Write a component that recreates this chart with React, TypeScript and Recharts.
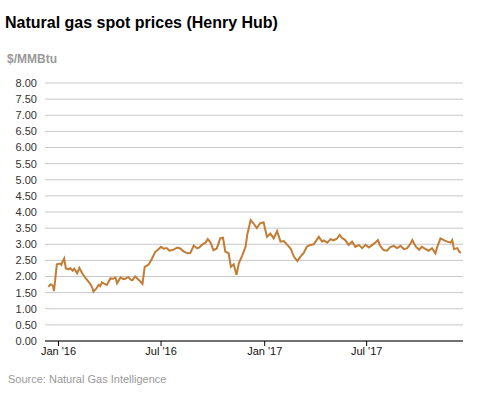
import React from 'react';
import { LineChart, Line, XAxis, YAxis, CartesianGrid } from 'recharts';

const dates: string[] = [
  '2015-12-14', '2015-12-18', '2015-12-22', '2015-12-24', '2015-12-29',
  '2016-01-04', '2016-01-06', '2016-01-08', '2016-01-11', '2016-01-14',
  '2016-01-19', '2016-01-22', '2016-01-26', '2016-01-29', '2016-02-03',
  '2016-02-07', '2016-02-12', '2016-02-16', '2016-02-21', '2016-02-26',
  '2016-03-01', '2016-03-03', '2016-03-08', '2016-03-12', '2016-03-15',
  '2016-03-18', '2016-03-22', '2016-03-27', '2016-04-02', '2016-04-07',
  '2016-04-11', '2016-04-14', '2016-04-20', '2016-04-24', '2016-04-27',
  '2016-05-01', '2016-05-04', '2016-05-08', '2016-05-11', '2016-05-16',
  '2016-05-22', '2016-05-25', '2016-05-29', '2016-06-02', '2016-06-09',
  '2016-06-15', '2016-06-21', '2016-06-25', '2016-07-01', '2016-07-06',
  '2016-07-11', '2016-07-16', '2016-07-21', '2016-07-25', '2016-07-30',
  '2016-08-04', '2016-08-10', '2016-08-17', '2016-08-22', '2016-08-28',
  '2016-09-03', '2016-09-07', '2016-09-12', '2016-09-18', '2016-09-22',
  '2016-09-27', '2016-10-02', '2016-10-08', '2016-10-14', '2016-10-19',
  '2016-10-23', '2016-10-29', '2016-11-02', '2016-11-07', '2016-11-12',
  '2016-11-16', '2016-11-22', '2016-11-28', '2016-12-01', '2016-12-07',
  '2016-12-12', '2016-12-18', '2016-12-24', '2016-12-30', '2017-01-05',
  '2017-01-11', '2017-01-17', '2017-01-23', '2017-01-29', '2017-02-04',
  '2017-02-10', '2017-02-16', '2017-02-22', '2017-02-28', '2017-03-05',
  '2017-03-11', '2017-03-17', '2017-03-23', '2017-03-29', '2017-04-07',
  '2017-04-13', '2017-04-16', '2017-04-22', '2017-04-28', '2017-05-03',
  '2017-05-09', '2017-05-14', '2017-05-18', '2017-05-24', '2017-05-30',
  '2017-06-05', '2017-06-11', '2017-06-17', '2017-06-23', '2017-06-29',
  '2017-07-05', '2017-07-11', '2017-07-17', '2017-07-21', '2017-07-25',
  '2017-07-31', '2017-08-06', '2017-08-12', '2017-08-18', '2017-08-24',
  '2017-08-30', '2017-09-05', '2017-09-11', '2017-09-17', '2017-09-20',
  '2017-09-26', '2017-10-02', '2017-10-07', '2017-10-13', '2017-10-19',
  '2017-10-25', '2017-10-31', '2017-11-03', '2017-11-09', '2017-11-15',
  '2017-11-21', '2017-11-27', '2017-11-30', '2017-12-03', '2017-12-09',
  '2017-12-12', '2017-12-15',
];

const prices: number[] = [
  1.68, 1.76, 1.72, 1.55, 2.38,
  2.40, 2.36, 2.45, 2.56, 2.25,
  2.22, 2.26, 2.18, 2.24, 2.10,
  2.27, 2.10, 2.00, 1.89, 1.78,
  1.65, 1.53, 1.62, 1.74, 1.70,
  1.82, 1.78, 1.74, 1.94, 1.93,
  1.97, 1.79, 1.97, 1.93, 1.92,
  1.96, 1.98, 1.90, 1.88, 2.00,
  1.90, 1.85, 1.77, 2.30, 2.37,
  2.56, 2.77, 2.82, 2.92, 2.86,
  2.88, 2.80, 2.82, 2.85, 2.90,
  2.87, 2.78, 2.72, 2.73, 2.96,
  2.87, 2.90, 2.99, 3.05, 3.16,
  3.05, 2.82, 2.87, 3.18, 3.20,
  2.77, 2.72, 2.30, 2.38, 2.05,
  2.41, 2.65, 2.92, 3.29, 3.75,
  3.65, 3.50, 3.65, 3.68, 3.23,
  3.33, 3.18, 3.41, 3.08, 3.10,
  2.98, 2.87, 2.61, 2.48, 2.61,
  2.72, 2.93, 2.98, 3.00, 3.23,
  3.08, 3.12, 3.05, 3.16, 3.12,
  3.17, 3.29, 3.20, 3.13, 2.98,
  3.08, 2.92, 2.98, 2.88, 2.98,
  2.90, 2.98, 3.06, 3.13, 2.95,
  2.82, 2.80, 2.91, 2.95, 2.88,
  2.95, 2.85, 2.88, 3.02, 3.13,
  2.93, 2.83, 2.92, 2.86, 2.80,
  2.88, 2.72, 2.90, 3.18, 3.13,
  3.08, 3.05, 3.13, 2.85, 2.88,
  2.78, 2.73,
];

const yTicks: number[] = [0, 0.5, 1, 1.5, 2, 2.5, 3, 3.5, 4, 4.5, 5, 5.5, 6, 6.5, 7, 7.5, 8];
const xTickDates: string[] = ['2016-01-01', '2016-07-01', '2017-01-01', '2017-07-01'];
const xDomainDates: string[] = ['2015-12-08', '2017-12-19'];
const monthNames: string[] = ['Jan', 'Feb', 'Mar', 'Apr', 'May', 'Jun', 'Jul', 'Aug', 'Sep', 'Oct', 'Nov', 'Dec'];

const data = dates.map((d, i) => ({ t: Date.parse(d), v: prices[i] }));
const xTicks = xTickDates.map((d) => Date.parse(d));
const xDomain = xDomainDates.map((d) => Date.parse(d));

const fmtDate = (t: number) => {
  const dt = new Date(t);
  return `${monthNames[dt.getUTCMonth()]} '${String(dt.getUTCFullYear()).slice(2)}`;
};

const FONT = '"Liberation Sans", Arial, sans-serif';

export default function App() {
  return (
    <div
      style={{
        position: 'absolute',
        left: 0,
        top: 0,
        width: 477,
        height: 393,
        background: '#fff',
        fontFamily: FONT,
        overflow: 'hidden',
      }}
    >
      <div
        style={{
          position: 'absolute',
          left: 5,
          top: 15,
          fontSize: 16,
          lineHeight: '16px',
          fontWeight: 'bold',
          color: '#000',
          whiteSpace: 'nowrap',
        }}
      >
        Natural gas spot prices (Henry Hub)
      </div>
      <div
        style={{
          position: 'absolute',
          left: 7,
          top: 53,
          fontSize: 12,
          lineHeight: '12px',
          fontWeight: 'bold',
          color: '#999',
          whiteSpace: 'nowrap',
        }}
      >
        $/MMBtu
      </div>
      <div style={{ position: 'absolute', left: 0, top: 0 }}>
        <LineChart
          width={477}
          height={393}
          data={data}
          margin={{ top: 83, right: 14, bottom: 22, left: 0 }}
        >
          <CartesianGrid horizontal={true} vertical={false} stroke="#c8c8c8" strokeWidth={1} />
          <XAxis
            dataKey="t"
            type="number"
            scale="time"
            domain={xDomain}
            ticks={xTicks}
            tickFormatter={fmtDate}
            axisLine={{ stroke: '#000', strokeWidth: 1 }}
            tickLine={{ stroke: '#000' }}
            tickSize={5}
            tickMargin={1}
            height={30}
            tick={{ fontSize: 11, fill: '#111', fontFamily: FONT }}
            interval={0}
          />
          <YAxis
            type="number"
            domain={[0, 8]}
            ticks={yTicks}
            tickFormatter={(v: number) => v.toFixed(2)}
            axisLine={false}
            tickLine={false}
            width={45}
            interval={0}
            tick={{ fontSize: 11, fill: '#333', fontFamily: FONT }}
          />
          <Line
            type="linear"
            dataKey="v"
            stroke="#c27c33"
            strokeWidth={2}
            dot={false}
            isAnimationActive={false}
          />
        </LineChart>
      </div>
      <div
        style={{
          position: 'absolute',
          left: 8,
          top: 374,
          fontSize: 11,
          lineHeight: '11px',
          color: '#999',
          whiteSpace: 'nowrap',
        }}
      >
        Source: Natural Gas Intelligence
      </div>
    </div>
  );
}
